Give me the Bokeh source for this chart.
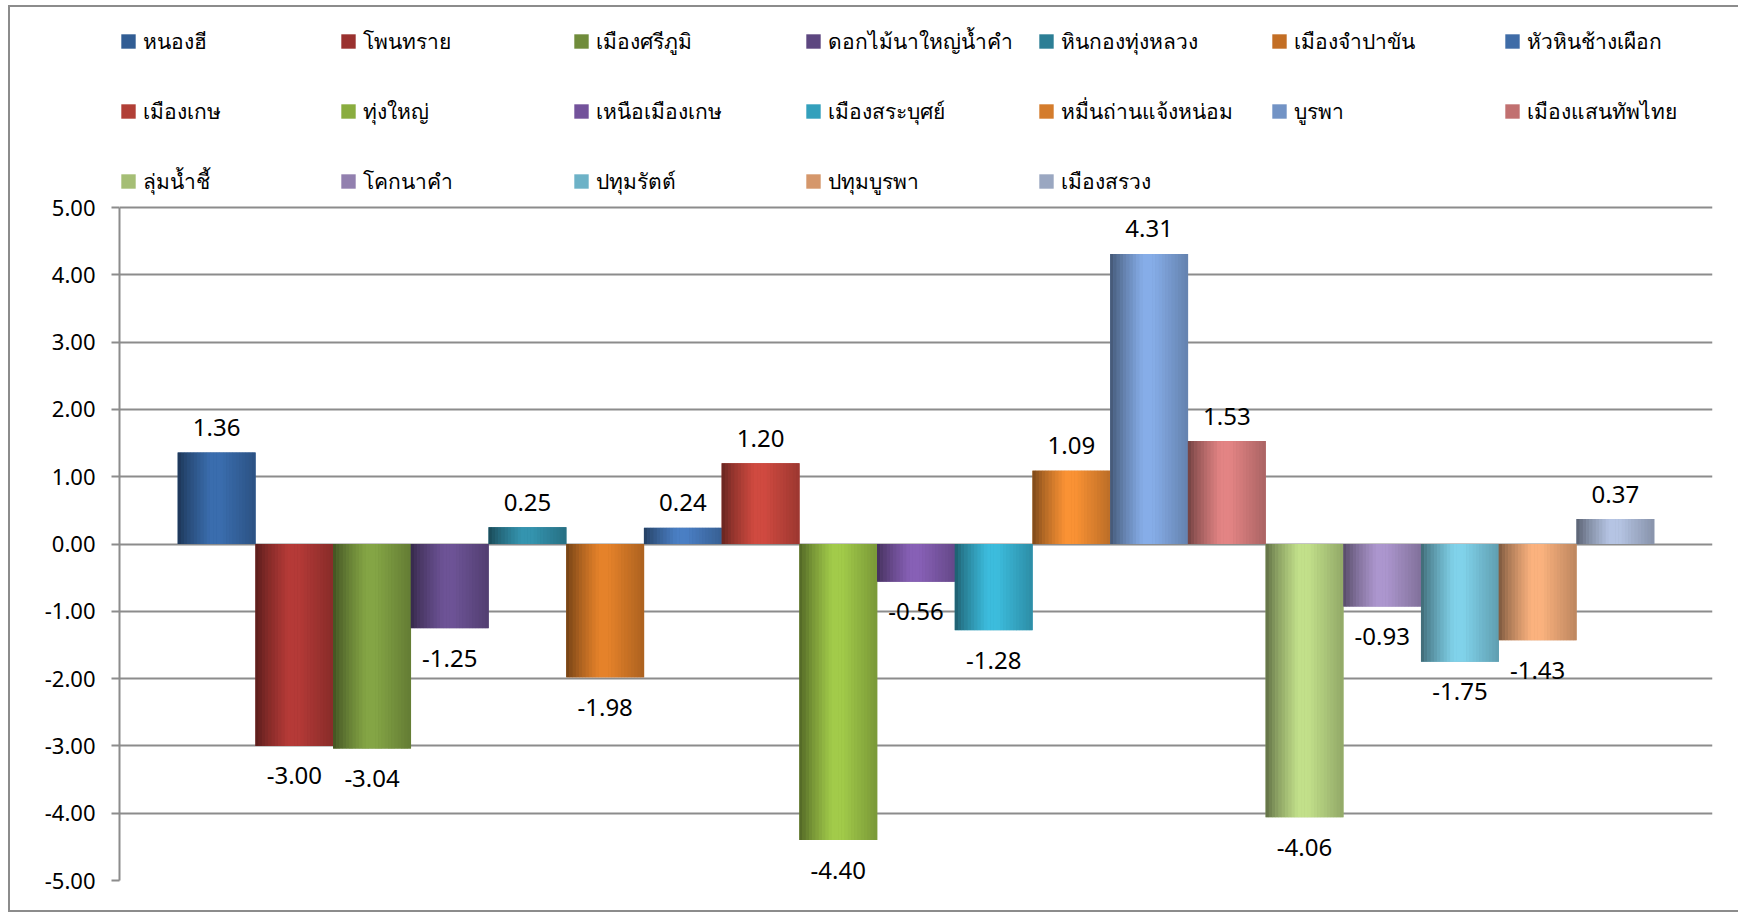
from bokeh.plotting import figure
from bokeh.models import (ColumnDataSource, Range1d, FixedTicker, NumeralTickFormatter,
                          Legend, LegendItem)
from bokeh.core.properties import value
from bokeh.embed import file_html
from bokeh.resources import INLINE

# ---- data ----
districts = ["หนองฮี", "โพนทราย", "เมืองศรีภูมิ", "ดอกไม้นาใหญ่น้ำคำ", "หินกองทุ่งหลวง",
             "เมืองจำปาขัน", "หัวหินช้างเผือก", "เมืองเกษ", "ทุ่งใหญ่", "เหนือเมืองเกษ",
             "เมืองสระบุศย์", "หมื่นถ่านแจ้งหน่อม", "บูรพา", "เมืองแสนทัพไทย",
             "ลุ่มน้ำชี้", "โคกนาคำ", "ปทุมรัตต์", "ปทุมบูรพา", "เมืองสรวง"]
values = [1.36, -3.00, -3.04, -1.25, 0.25, -1.98, 0.24, 1.20, -4.40, -0.56,
          -1.28, 1.09, 4.31, 1.53, -4.06, -0.93, -1.75, -1.43, 0.37]
y_ticks = [-5, -4, -3, -2, -1, 0, 1, 2, 3, 4, 5]

# highlight (brightest) colour of each series
colors = ["#3A6DAE", "#B53A37", "#84A545", "#6D5396", "#3494AF", "#E5822A",
          "#4A7FC4", "#D04A40", "#A2CB4A", "#8760B6", "#3CBCDD", "#FA9234",
          "#86ADE8", "#E38484", "#C2E08A", "#AC96CE", "#80D2EA", "#FBB27E", "#B5C4E3"]

n = len(values)
gap = 1.5  # Excel gap width 150%
xs = [gap / 2 + i + 0.5 for i in range(n)]

FONT = "Noto Sans"
GRID = "#8c8c8c"
PX_PER_UNIT = 67.3
TOP_EXTRA = 200 / PX_PER_UNIT   # room above 5.00 for the legend

p = figure(width=1730, height=907, output_backend="svg", toolbar_location=None,
           x_range=Range1d(0, n + gap), y_range=Range1d(-5, 5 + TOP_EXTRA),
           min_border_left=109, min_border_right=28, min_border_top=0,
           min_border_bottom=34)
p.styles = {"margin-left": "8px", "margin-top": "5px",
            "border-left": "2px solid #8c8c8c", "border-top": "2px solid #8c8c8c",
            "border-bottom": "2px solid #8c8c8c"}
p.outline_line_color = None
p.background_fill_color = "white"
p.border_fill_color = "white"

p.xaxis.visible = False
p.xgrid.visible = False
p.ygrid.ticker = FixedTicker(ticks=y_ticks)
p.ygrid.grid_line_color = GRID
p.ygrid.grid_line_width = 2

p.yaxis.bounds = (-5, 5)
p.yaxis.ticker = FixedTicker(ticks=y_ticks)
p.yaxis.formatter = NumeralTickFormatter(format="0.00")
p.yaxis.axis_line_color = GRID
p.yaxis.axis_line_width = 2
p.yaxis.major_tick_line_color = GRID
p.yaxis.major_tick_line_width = 2
p.yaxis.major_tick_out = 8
p.yaxis.major_tick_in = 0
p.yaxis.minor_tick_line_color = None
p.yaxis.major_label_text_font = FONT
p.yaxis.major_label_text_font_size = "22px"
p.yaxis.major_label_text_color = "black"
p.yaxis.major_label_standoff = 16


def shade(hex_color, f):
    r, g, b = (int(hex_color[i:i + 2], 16) for i in (1, 3, 5))
    if f <= 1:
        r, g, b = r * f, g * f, b * f
    else:
        r, g, b = (c + (255 - c) * (f - 1) for c in (r, g, b))
    return "#%02x%02x%02x" % tuple(int(max(0, min(255, round(c)))) for c in (r, g, b))


def profile(t):
    # cylinder-like shading across the bar: dark left edge, highlight near 40%, darker right
    if t < 0.42:
        return 0.48 + 0.52 * (t / 0.42) ** 0.8
    if t < 0.55:
        return 1.0
    return 1.0 - 0.25 * ((t - 0.55) / 0.45)


K = 24
sx, stop, scol = [], [], []
items = []
for i in range(n):
    src = ColumnDataSource(dict(x=[xs[i]], top=[values[i]]))
    r = p.vbar(x="x", top="top", bottom=0, width=1.0, source=src,
               fill_color=shade(colors[i], 0.85), line_color=None)
    items.append((districts[i], r))
    for k in range(K):
        t = (k + 0.5) / K
        sx.append(xs[i] - 0.5 + t)
        stop.append(values[i])
        scol.append(shade(colors[i], profile(t)))

strips = ColumnDataSource(dict(x=sx, top=stop, c=scol))
p.vbar(x="x", top="top", bottom=0, width=1.0 / K * 1.1, source=strips,
       fill_color="c", line_color=None)

lab = ColumnDataSource(dict(
    x=xs, y=values,
    t=["%.2f" % v for v in values],
    off=[-25 if v >= 0 else 30 for v in values],
))
p.text(x="x", y="y", text="t", source=lab, y_offset="off",
       text_align="center", text_baseline="middle",
       text_font=value(FONT), text_font_size="24px", text_color="black")

# legend: 7 columns laid out row-major, 3 rows
col_x = [0, 220, 453, 685, 918, 1151, 1384]
frame_h = 873
row_pitch = 70
item_h = 34
first_row_center = 34
for c in range(7):
    col_items = [items[k] for k in range(c, n, 7)]
    nr = len(col_items)
    top = first_row_center - item_h / 2
    bottom = top + item_h * nr + (row_pitch - item_h) * (nr - 1)
    lg = Legend(items=[LegendItem(label=l, renderers=[r]) for l, r in col_items],
                location=(col_x[c], frame_h - bottom), orientation="vertical",
                glyph_width=18, glyph_height=18, label_standoff=6,
                label_height=item_h, spacing=row_pitch - item_h, padding=0, margin=0,
                border_line_color=None, background_fill_alpha=0,
                label_text_font=FONT, label_text_font_size="21px",
                label_text_color="black")
    p.add_layout(lg, "center")

open("out.html", "w").write(file_html(p, INLINE))
